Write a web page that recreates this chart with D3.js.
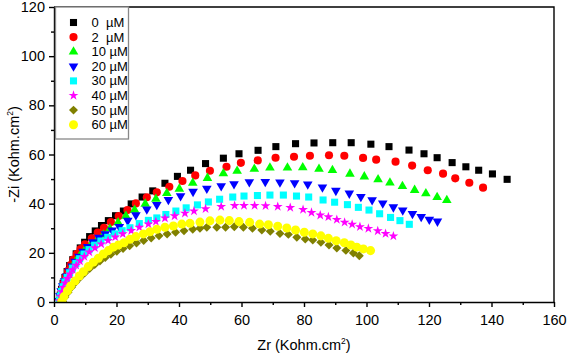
<!DOCTYPE html>
<html>
<head>
<meta charset="utf-8">
<script src="https://cdn.jsdelivr.net/npm/d3@7"></script>
<style>
  body { margin: 0; background: #fff; }
  svg text { font-family: "Liberation Sans", Arial, sans-serif; fill: #000; }
</style>
</head>
<body>
<svg id="chart" width="567" height="354"></svg>
<script>
// tick values
const xTicks = [0, 20, 40, 60, 80, 100, 120, 140, 160];
const xMinor = [10, 30, 50, 70, 90, 110, 130, 150];
const yTicks = [0, 20, 40, 60, 80, 100, 120];
const yMinor = [10, 30, 50, 70, 90, 110];

const seriesNames = ["0  µM", "2  µM", "10 µM", "20 µM", "30 µM", "40 µM", "50 µM", "60 µM"];
const seriesColors = ["#000000", "#ff0000", "#00ff00", "#0000ff", "#00ffff", "#ff00ff", "#808000", "#ffff00"];

// [Zr, -Zi] points
const c0 = [[1.8,0.5],[2.0,2.8],[2.4,5.2],[2.9,7.6],[3.5,10.0],[4.2,12.4],[5.0,14.8],[6.0,17.2],[7.1,19.6],[8.4,22.0],[9.8,24.3],[11.4,26.6],[13.2,28.9],[15.2,31.1],[17.4,33.1],[19.7,35.1],[22.2,37.0],[24.7,39.9],[28.2,42.7],[31.6,45.2],[35.5,48.3],[39.5,51.1],[43.7,53.6],[48.5,56.3],[54.2,58.5],[59.2,60.3],[65.3,61.7],[71.0,63.2],[77.3,64.4],[83.2,64.7],[89.2,64.8],[95.1,64.8],[101.4,64.2],[107.2,63.2],[113.6,61.8],[118.4,60.3],[122.6,58.7],[127.4,56.7],[131.8,55.0],[135.9,53.6],[140.3,52.1],[145.0,49.9]];
const c2 = [[2.0,1.0],[2.3,3.2],[2.7,5.5],[3.2,7.9],[3.8,10.3],[4.5,12.7],[5.3,15.0],[6.2,17.3],[7.3,19.5],[8.5,21.5],[9.9,23.5],[12.1,25.9],[14.0,28.2],[16.0,30.2],[18.2,32.5],[20.7,35.0],[23.5,37.4],[26.2,40.1],[29.7,42.6],[32.9,44.6],[36.9,46.9],[41.1,49.2],[45.2,51.5],[49.9,53.4],[55.2,55.0],[59.8,56.6],[65.2,57.6],[70.9,58.7],[76.8,59.1],[81.9,59.5],[88.0,59.7],[92.9,59.5],[98.9,58.6],[103.1,57.9],[109.3,57.1],[114.6,55.5],[119.6,53.6],[124.5,52.2],[128.4,50.3],[132.9,48.5],[137.3,46.5]];
const c10 = [[2.0,0.5],[2.3,2.6],[2.7,4.7],[3.2,6.8],[3.8,8.9],[4.5,11.0],[5.3,13.1],[6.2,15.2],[7.2,17.2],[8.4,19.2],[9.9,21.2],[11.7,23.1],[13.7,24.9],[15.8,27.3],[17.9,29.8],[20.5,32.3],[23.0,35.0],[25.8,37.4],[29.2,39.9],[32.6,41.9],[36.1,44.2],[40.1,46.0],[44.4,48.4],[49.1,50.4],[54.2,52.3],[58.6,53.3],[64.1,54.1],[69.1,54.6],[74.7,54.6],[79.6,54.7],[84.8,54.1],[89.1,53.6],[94.7,52.1],[99.3,51.0],[103.7,49.8],[107.5,48.5],[111.5,47.1],[115.4,45.5],[119.0,44.1],[122.6,42.6],[125.7,41.4]];
const c20 = [[1.6,0.5],[1.9,2.5],[2.3,4.5],[2.8,6.5],[3.4,8.5],[4.1,10.5],[4.9,12.5],[5.8,14.5],[6.8,16.5],[8.0,18.5],[9.3,20.5],[10.8,22.5],[12.5,24.4],[14.4,26.2],[16.4,27.7],[18.6,29.2],[20.9,30.6],[23.6,33.1],[26.2,35.4],[29.7,37.7],[32.9,39.6],[36.6,41.6],[40.5,43.1],[44.5,44.9],[48.9,46.2],[53.5,47.2],[57.6,48.0],[62.5,48.8],[67.6,48.9],[72.3,48.7],[77.0,48.4],[81.2,47.9],[85.9,46.7],[90.2,45.3],[94.5,44.2],[98.2,42.8],[101.8,41.5],[105.2,40.2],[108.6,38.6],[111.6,37.3],[114.7,35.9],[117.5,34.7],[120.1,33.6],[122.7,32.8]];
const c30 = [[1.7,0.5],[2.0,2.4],[2.4,4.3],[2.9,6.2],[3.5,8.1],[4.2,10.0],[5.0,11.9],[5.9,13.8],[7.0,15.7],[8.2,17.6],[9.6,19.5],[11.2,21.3],[13.0,23.1],[15.0,24.8],[17.2,26.3],[19.5,27.7],[21.8,29.0],[24.3,30.2],[27.3,31.9],[30.2,33.2],[32.9,34.2],[35.8,35.6],[39.0,37.0],[42.3,38.3],[45.9,39.5],[49.4,40.7],[53.0,41.8],[57.2,42.7],[60.8,43.1],[65.1,43.3],[69.1,43.5],[73.4,43.5],[77.6,43.1],[81.5,42.7],[86.1,41.5],[89.8,40.6],[93.9,39.6],[97.4,38.5],[100.8,37.4],[104.2,35.9],[107.7,34.4],[110.7,33.1],[113.7,31.6]];
const c40 = [[1.8,0.5],[2.1,2.3],[2.5,4.1],[3.0,5.9],[3.6,7.7],[4.3,9.5],[5.1,11.3],[6.0,13.1],[7.1,14.9],[8.3,16.7],[9.7,18.5],[11.3,20.3],[13.1,22.0],[15.1,23.6],[17.3,25.0],[19.6,26.4],[22.0,27.7],[24.7,29.0],[27.3,30.4],[30.2,31.7],[32.6,32.7],[35.5,34.1],[38.6,35.0],[41.9,36.1],[44.8,37.0],[48.5,37.9],[53.5,38.8],[57.8,39.2],[60.8,39.2],[64.2,39.2],[67.7,39.1],[71.6,38.8],[75.6,38.4],[79.7,37.6],[82.4,36.4],[85.2,35.3],[87.8,34.6],[90.5,33.5],[93.0,32.4],[95.4,31.6],[97.9,30.6],[100.6,29.9],[103.6,28.9],[106.1,27.8],[108.6,26.8]];
const c50 = [[2.8,0.2],[3.5,2.0],[4.5,4.0],[5.6,6.0],[6.9,8.0],[8.3,10.0],[9.8,11.8],[11.4,13.6],[13.0,15.2],[14.7,16.7],[16.4,18.1],[18.2,19.4],[20.1,20.6],[22.1,21.8],[24.2,22.9],[26.4,24.0],[28.7,25.0],[31.1,26.0],[33.6,26.9],[36.2,27.7],[38.9,28.4],[41.6,29.0],[44.4,29.6],[46.7,30.0],[48.9,30.4],[52.1,30.4],[54.9,30.4],[57.7,30.6],[60.6,30.4],[63.5,30.0],[66.5,29.3],[69.2,28.8],[72.3,27.9],[75.0,27.5],[77.7,26.3],[80.4,25.6],[82.8,25.2],[85.4,24.3],[88.0,23.2],[90.5,22.0],[93.4,21.0],[95.8,19.9],[97.7,18.8]];
const c60 = [[2.5,0.2],[3.2,2.2],[4.3,4.6],[5.3,6.5],[6.7,8.5],[8.1,10.6],[9.4,12.3],[11.0,14.4],[12.6,16.2],[14.2,17.8],[15.8,19.5],[17.4,20.9],[19.0,22.3],[20.6,23.2],[22.4,24.1],[24.3,25.5],[26.2,26.6],[28.6,27.7],[30.7,28.6],[32.9,29.6],[35.5,30.4],[38.2,30.9],[40.9,31.7],[43.5,32.0],[46.7,32.5],[49.9,33.0],[53.1,33.3],[56.1,33.1],[59.2,32.7],[62.6,32.4],[65.8,31.7],[68.6,31.4],[71.6,30.8],[74.5,30.1],[77.3,29.3],[80.1,28.4],[82.8,27.7],[85.4,26.9],[87.8,25.9],[90.3,24.9],[92.9,24.1],[95.0,23.2],[96.9,22.3],[99.0,21.6],[101.3,20.9]];

const seriesData = [c0, c2, c10, c20, c30, c40, c50, c60];

const svg = d3.select("#chart");
const margin = { left: 54, right: 13, top: 7, bottom: 52 };
const width = +svg.attr("width");
const height = +svg.attr("height");
const plotW = width - margin.left - margin.right;
const plotH = height - margin.top - margin.bottom;

const x = d3.scaleLinear().domain([0, 160]).range([margin.left, margin.left + plotW]);
const y = d3.scaleLinear().domain([0, 120]).range([margin.top + plotH, margin.top]);

// marker shapes, one per series
const symbolFor = i => {
  const sq = d3.symbol().type(d3.symbolSquare);
  switch (i) {
    case 0: return { path: sq.size(50)(), rot: 0 };
    case 1: return { path: d3.symbol().type(d3.symbolCircle).size(52)(), rot: 0 };
    case 2: return { path: d3.symbol().type(d3.symbolTriangle).size(40)(), rot: 0 };
    case 3: return { path: d3.symbol().type(d3.symbolTriangle).size(40)(), rot: 180 };
    case 4: return { path: sq.size(50)(), rot: 0 };
    case 5: return { path: d3.symbol().type(d3.symbolStar).size(30)(), rot: 0 };
    case 6: return { path: sq.size(40)(), rot: 45 };
    default: return { path: d3.symbol().type(d3.symbolCircle).size(64)(), rot: 0 };
  }
};

svg.append("defs").append("clipPath").attr("id", "plot-clip")
  .append("rect")
  .attr("x", margin.left).attr("y", margin.top)
  .attr("width", plotW).attr("height", plotH);

// points
const plot = svg.append("g").attr("clip-path", "url(#plot-clip)");
seriesData.forEach((pts, i) => {
  const sym = symbolFor(i);
  plot.append("g")
    .selectAll("path")
    .data(pts)
    .enter().append("path")
    .attr("d", sym.path)
    .attr("transform", d => `translate(${x(d[0])},${y(d[1])}) rotate(${sym.rot})`)
    .attr("fill", seriesColors[i]);
});

// axes
svg.append("g")
  .attr("transform", `translate(0,${margin.top + plotH})`)
  .call(d3.axisBottom(x).tickValues(xTicks).tickSize(5).tickSizeOuter(0).tickPadding(8));
svg.append("g")
  .attr("transform", `translate(0,${margin.top + plotH})`)
  .call(d3.axisBottom(x).tickValues(xMinor).tickSize(3).tickFormat("").tickSizeOuter(0))
  .select(".domain").remove();

svg.append("g")
  .attr("transform", `translate(${margin.left},0)`)
  .call(d3.axisLeft(y).tickValues(yTicks).tickSize(5).tickSizeOuter(0).tickPadding(4));
svg.append("g")
  .attr("transform", `translate(${margin.left},0)`)
  .call(d3.axisLeft(y).tickValues(yMinor).tickSize(3).tickFormat("").tickSizeOuter(0))
  .select(".domain").remove();

svg.selectAll(".domain, .tick line").attr("stroke", "#000").attr("stroke-width", 1.4);
svg.selectAll(".tick text").style("font-size", "14.5px");

// top and right frame lines
svg.append("path")
  .attr("d", `M${margin.left},${margin.top}H${margin.left + plotW}V${margin.top + plotH}`)
  .attr("fill", "none")
  .attr("stroke", "#000")
  .attr("stroke-width", 1.4);

// axis titles
const xTitle = svg.append("text")
  .attr("x", x(80))
  .attr("y", height - 4)
  .attr("text-anchor", "middle")
  .style("font-size", "14.5px");
xTitle.append("tspan").text("Zr (Kohm.cm");
xTitle.append("tspan").attr("dy", -6).style("font-size", "8.5px").text("2");
xTitle.append("tspan").attr("dy", 6).text(")");

const yTitle = svg.append("text")
  .attr("transform", `translate(19,${y(60)}) rotate(-90)`)
  .attr("text-anchor", "middle")
  .style("font-size", "14.5px");
yTitle.append("tspan").text("-Zi (Kohm.cm");
yTitle.append("tspan").attr("dy", -6).style("font-size", "8.5px").text("2");
yTitle.append("tspan").attr("dy", 6).text(")");

// legend
const legend = svg.append("g").attr("transform", `translate(${margin.left + 1.5},${margin.top})`);
legend.append("rect")
  .attr("width", 73)
  .attr("height", 132)
  .attr("fill", "#fff")
  .attr("stroke", "#888")
  .attr("stroke-width", 1.3);

seriesNames.forEach((name, i) => {
  const row = legend.append("g").attr("transform", `translate(0,${15.5 + i * 14.6})`);
  const sym = symbolFor(i);
  row.append("path")
    .attr("d", sym.path)
    .attr("transform", `translate(18,0) rotate(${sym.rot})`)
    .attr("fill", seriesColors[i]);
  row.append("text")
    .attr("x", 36)
    .attr("y", 4.5)
    .attr("xml:space", "preserve")
    .style("white-space", "pre")
    .style("font-size", "13px")
    .text(name);
});
</script>
</body>
</html>
